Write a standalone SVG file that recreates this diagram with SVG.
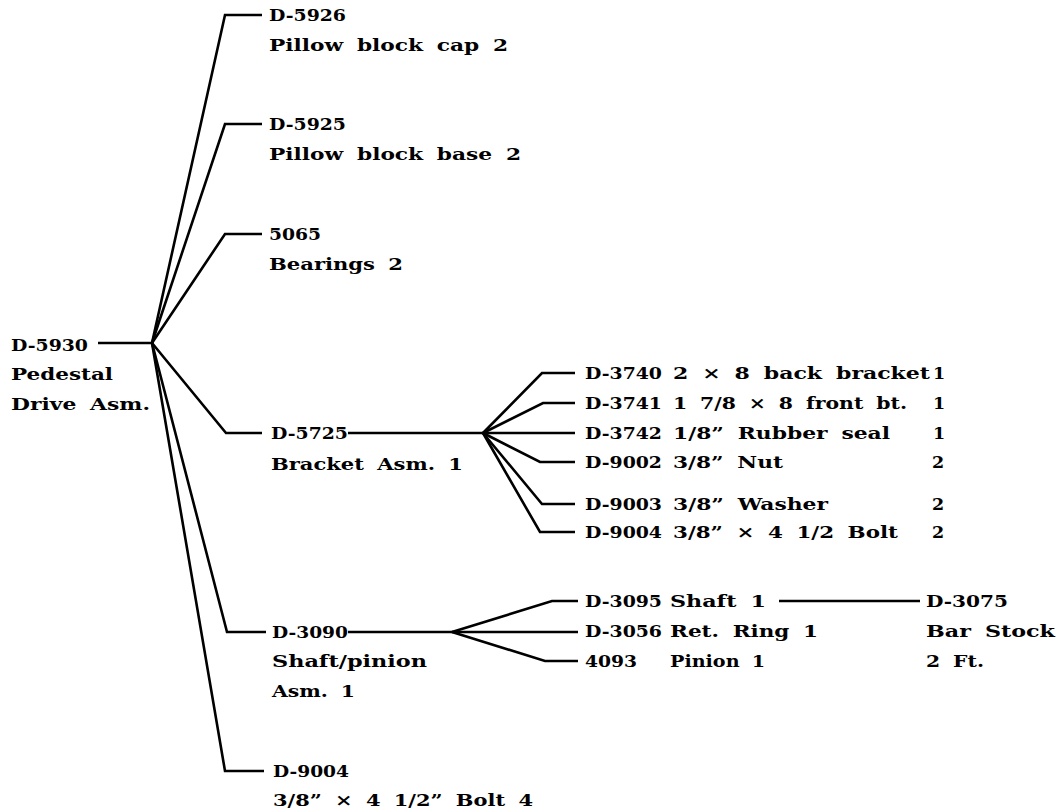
<svg xmlns="http://www.w3.org/2000/svg" width="1059" height="811" viewBox="0 0 1059 811">
<style>
text{font-family:"DejaVu Serif","Liberation Serif",serif;font-weight:bold;font-size:17.5px;fill:#000;word-spacing:5px}
.c{fill:none;stroke:#000;stroke-width:2.6;stroke-linejoin:miter}
</style>
<rect width="1059" height="811" fill="#fff"/>
<g id="connectors" class="c">
<path class="c" d="M98,343H152"/>
<path class="c" d="M152,343L225,15H262"/>
<path class="c" d="M152,343L225,124H262"/>
<path class="c" d="M152,343L225,234H262"/>
<path class="c" d="M152,343L226,433H262"/>
<path class="c" d="M152,343L227,632H266"/>
<path class="c" d="M152,343L225,771H264"/>
<path class="c" d="M348,433H483"/>
<path class="c" d="M483,433L542,373H575"/>
<path class="c" d="M483,433L543,403H575"/>
<path class="c" d="M483,433H575"/>
<path class="c" d="M483,433L540,462H575"/>
<path class="c" d="M483,433L542,504H575"/>
<path class="c" d="M483,433L540,532H575"/>
<path class="c" d="M348,632H452"/>
<path class="c" d="M452,632L552,601H578"/>
<path class="c" d="M452,632H578"/>
<path class="c" d="M452,632L545,661H578"/>
<path class="c" d="M779,601H920"/>
</g>
<g id="n-D5930">
<text x="11" y="351" textLength="77" lengthAdjust="spacingAndGlyphs">D-5930</text>
<text x="11" y="380" textLength="102" lengthAdjust="spacingAndGlyphs">Pedestal</text>
<text x="11" y="410" textLength="139" lengthAdjust="spacingAndGlyphs">Drive Asm.</text>
</g>
<g id="n-D5926">
<text x="269" y="21" textLength="77" lengthAdjust="spacingAndGlyphs">D-5926</text>
<text x="269" y="51" textLength="239" lengthAdjust="spacingAndGlyphs">Pillow block cap 2</text>
</g>
<g id="n-D5925">
<text x="269" y="130" textLength="77" lengthAdjust="spacingAndGlyphs">D-5925</text>
<text x="269" y="160" textLength="252" lengthAdjust="spacingAndGlyphs">Pillow block base 2</text>
</g>
<g id="n-5065">
<text x="269" y="240" textLength="52" lengthAdjust="spacingAndGlyphs">5065</text>
<text x="269" y="270" textLength="134" lengthAdjust="spacingAndGlyphs">Bearings 2</text>
</g>
<g id="n-D5725">
<text x="271" y="439" textLength="77" lengthAdjust="spacingAndGlyphs">D-5725</text>
<text x="271" y="470" textLength="192" lengthAdjust="spacingAndGlyphs">Bracket Asm. 1</text>
</g>
<g id="n-D3740">
<text x="585" y="379" textLength="77" lengthAdjust="spacingAndGlyphs">D-3740</text>
<text x="673" y="379" textLength="257" lengthAdjust="spacingAndGlyphs">2 × 8 back bracket</text>
<text x="933" y="379">1</text>
</g>
<g id="n-D3741">
<text x="585" y="409" textLength="77" lengthAdjust="spacingAndGlyphs">D-3741</text>
<text x="673" y="409" textLength="234" lengthAdjust="spacingAndGlyphs">1 7/8 × 8 front bt.</text>
<text x="933" y="409">1</text>
</g>
<g id="n-D3742">
<text x="585" y="439" textLength="77" lengthAdjust="spacingAndGlyphs">D-3742</text>
<text x="673" y="439" textLength="217" lengthAdjust="spacingAndGlyphs">1/8” Rubber seal</text>
<text x="933" y="439">1</text>
</g>
<g id="n-D9002">
<text x="585" y="468" textLength="77" lengthAdjust="spacingAndGlyphs">D-9002</text>
<text x="673" y="468" textLength="110" lengthAdjust="spacingAndGlyphs">3/8” Nut</text>
<text x="932" y="468">2</text>
</g>
<g id="n-D9003">
<text x="585" y="510" textLength="77" lengthAdjust="spacingAndGlyphs">D-9003</text>
<text x="673" y="510" textLength="155" lengthAdjust="spacingAndGlyphs">3/8” Washer</text>
<text x="932" y="510">2</text>
</g>
<g id="n-D9004a">
<text x="585" y="538" textLength="77" lengthAdjust="spacingAndGlyphs">D-9004</text>
<text x="673" y="538" textLength="225" lengthAdjust="spacingAndGlyphs">3/8” × 4 1/2 Bolt</text>
<text x="932" y="538">2</text>
</g>
<g id="n-D3090">
<text x="272" y="638" textLength="76" lengthAdjust="spacingAndGlyphs">D-3090</text>
<text x="272" y="667" textLength="155" lengthAdjust="spacingAndGlyphs">Shaft/pinion</text>
<text x="272" y="697" textLength="83" lengthAdjust="spacingAndGlyphs">Asm. 1</text>
</g>
<g id="n-D3095">
<text x="585" y="607" textLength="77" lengthAdjust="spacingAndGlyphs">D-3095</text>
<text x="670" y="607" textLength="96" lengthAdjust="spacingAndGlyphs">Shaft 1</text>
</g>
<g id="n-D3056">
<text x="585" y="637" textLength="77" lengthAdjust="spacingAndGlyphs">D-3056</text>
<text x="670" y="637" textLength="148" lengthAdjust="spacingAndGlyphs">Ret. Ring 1</text>
</g>
<g id="n-4093">
<text x="585" y="667" textLength="52" lengthAdjust="spacingAndGlyphs">4093</text>
<text x="670" y="667" textLength="95" lengthAdjust="spacingAndGlyphs">Pinion 1</text>
</g>
<g id="n-D3075">
<text x="926" y="607" textLength="82" lengthAdjust="spacingAndGlyphs">D-3075</text>
<text x="926" y="637" textLength="129" lengthAdjust="spacingAndGlyphs">Bar Stock</text>
<text x="926" y="667" textLength="58" lengthAdjust="spacingAndGlyphs">2 Ft.</text>
</g>
<g id="n-D9004">
<text x="273" y="777" textLength="76" lengthAdjust="spacingAndGlyphs">D-9004</text>
<text x="273" y="806" textLength="260" lengthAdjust="spacingAndGlyphs">3/8” × 4 1/2” Bolt 4</text>
</g>
</svg>
